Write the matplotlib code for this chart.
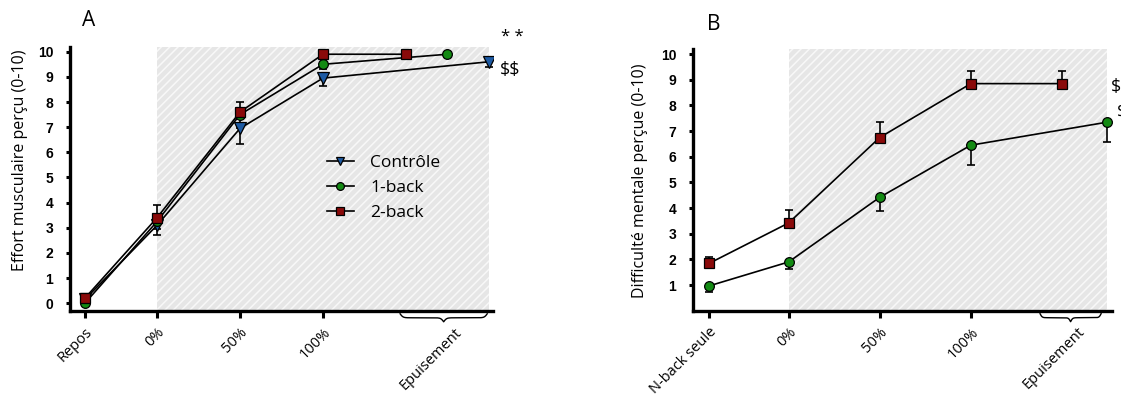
import numpy as np
import matplotlib
matplotlib.use("Agg")
import matplotlib.pyplot as plt
import matplotlib.transforms as mtransforms

plt.rcParams['hatch.linewidth'] = 1.1

# ---- data, panel A (effort musculaire) ----
cats_A = ['Repos', '0%', '50%', '100%']
ctrl_A = [0.15, 3.1, 6.95, 8.95, 9.6]
ctrl_A_err = [0.1, 0.38, 0.6, 0.31, 0.22]      # lower side
oneb_A = [0.0, 3.25, 7.5, 9.5, 9.9]
oneb_A_err = [0.05, 0.3, 0.4, 0.2, 0.1]        # lower side
twob_A = [0.2, 3.4, 7.6, 9.9, 9.9]
twob_A_err = [0.1, 0.5, 0.4, 0.05, 0.05]       # upper side

# ---- data, panel B (difficulté mentale) ----
cats_B = ['N-back seule', '0%', '50%', '100%']
oneb_B = [0.97, 1.9, 4.42, 6.45, 7.35]
oneb_B_err = [0.23, 0.29, 0.52, 0.78, 0.78]    # lower side
twob_B = [1.85, 3.42, 6.75, 8.85, 8.85]
twob_B_err = [0.25, 0.5, 0.6, 0.5, 0.5]        # upper side

# ---- layout ----
cat_pos = [0.13, 1, 2, 3]
epu_A = {'ctrl': 5.0, 'oneb': 4.5, 'twob': 4.0}
epu_B = {'oneb': 4.5, 'twob': 4.0}

BLUE = '#1d5aa3'
GREEN = '#138a13'
RED = '#8a0a0a'
LIGHT = 'Open Sans'
BOLD = 'Liberation Sans'

fig = plt.figure(figsize=(11.21, 3.95), dpi=100)
axA = fig.add_axes([0.0624, 0.2132, 0.3774, 0.6686])
axB = fig.add_axes([0.6182, 0.2134, 0.3738, 0.6626])


def brace(ax, x0, x1, depth=8):
    # curly brace under the x axis, x in data units, y in pixels below axis
    n = 201
    xs = np.linspace(x0, x1, n)
    half = xs[:n // 2 + 1]
    beta = 60.0 / (x1 - x0)
    yh = 1 / (1 + np.exp(-beta * (half - half[0]))) + 1 / (1 + np.exp(-beta * (half - half[-1])))
    ys = np.concatenate((yh, yh[-2::-1]))
    ys = (ys - ys.min()) / (ys.max() - ys.min())
    tr = mtransforms.blended_transform_factory(ax.transData, ax.transAxes)
    off = mtransforms.ScaledTranslation(0, -3 / 100, fig.dpi_scale_trans)
    ys_ax = -ys * depth / ax.bbox.height
    ax.plot(xs, ys_ax, color='black', lw=1.0, transform=tr + off, clip_on=False)


def style(ax, cats, xlim, yticks, ylabel, ylab_xy, epu_x, brace_span):
    ax.set_xlim(*xlim)
    for s in ['top', 'right']:
        ax.spines[s].set_visible(False)
    for s in ['left', 'bottom']:
        ax.spines[s].set_linewidth(2.4)
    ax.set_yticks(yticks)
    ax.set_yticklabels([str(t) for t in yticks], fontfamily=BOLD,
                       fontweight='bold', fontsize=10)
    ax.tick_params(axis='y', length=3, width=2.2, pad=9)
    ax.set_xticks(cat_pos)
    ax.set_xticklabels(cats, rotation=45, ha='right', va='top',
                       rotation_mode='anchor', fontfamily=LIGHT, fontsize=10.5)
    ax.tick_params(axis='x', length=5, width=2.2, pad=5)
    ax.set_xticks([epu_x], ['Epuisement'], minor=True)
    ax.tick_params(axis='x', which='minor', length=0, pad=10)
    for lab in ax.get_xticklabels(minor=True):
        lab.set_rotation(45)
        lab.set_ha('right')
        lab.set_va('top')
        lab.set_rotation_mode('anchor')
        lab.set_fontfamily(LIGHT)
        lab.set_fontsize(10.5)
    ax.set_ylabel(ylabel, fontfamily=LIGHT, fontsize=11.5, va='center')
    ax.yaxis.set_label_coords(*ylab_xy)
    brace(ax, *brace_span)


def series(ax, xs, ys, lo, hi, marker, color, ms, label=None):
    ax.errorbar(xs, ys, yerr=[lo, hi], fmt='none', ecolor='black',
                elinewidth=1.2, capsize=3, capthick=1.2, zorder=3)
    ax.plot(xs, ys, color='black', lw=1.2, marker=marker, ms=ms,
            mfc=color, mec='black', mew=0.9, zorder=4, label=label)


# ---------------- panel A ----------------
axA.set_ylim(-0.3, 10.2)
axA.axvspan(1, epu_A['ctrl'], facecolor='#e6e6e6', edgecolor='#f8f8f8',
            hatch='////', lw=0, zorder=0)
zA = [0] * 5
series(axA, cat_pos + [epu_A['ctrl']], ctrl_A, ctrl_A_err, zA, 'v', BLUE, 8, 'Contrôle')
series(axA, cat_pos + [epu_A['oneb']], oneb_A, oneb_A_err, zA, 'o', GREEN, 7, '1-back')
series(axA, cat_pos + [epu_A['twob']], twob_A, zA, twob_A_err, 's', RED, 7, '2-back')
style(axA, cats_A, (-0.05, 5.05), list(range(0, 11)),
      'Effort musculaire perçu (0-10)', (-0.118, 0.571), 4.58, (3.93, 4.98))
leg = axA.legend(loc='upper left', bbox_to_anchor=(0.607, 0.59), frameon=False,
                 prop={'family': LIGHT, 'size': 12.5}, handlelength=1.55,
                 handletextpad=0.95, labelspacing=0.52, numpoints=1,
                 markerscale=0.8, borderaxespad=0, borderpad=0)

# ---------------- panel B ----------------
axB.set_ylim(0, 10.2)
axB.axvspan(1, epu_B['oneb'], facecolor='#e6e6e6', edgecolor='#f8f8f8',
            hatch='////', lw=0, zorder=0)
zB = [0] * 5
series(axB, cat_pos + [epu_B['oneb']], oneb_B, oneb_B_err, zB, 'o', GREEN, 7)
series(axB, cat_pos + [epu_B['twob']], twob_B, zB, twob_B_err, 's', RED, 7)
style(axB, cats_B, (-0.05, 4.55), list(range(1, 11)),
      'Difficulté mentale perçue (0-10)', (-0.126, 0.496), 4.17, (3.76, 4.43))

# ---------------- panel letters and significance marks ----------------
fig.text(89 / 1121, 1 - 21 / 395, 'A', fontfamily=LIGHT, fontsize=15,
         ha='center', va='center')
fig.text(714 / 1121, 1 - 25 / 395, 'B', fontfamily=LIGHT, fontsize=15,
         ha='center', va='center')
fig.text(501 / 1121, 1 - 37 / 395, '* *', fontfamily=LIGHT, fontsize=12,
         ha='left', va='center')
fig.text(500 / 1121, 1 - 70 / 395, r'\$\$', fontfamily=LIGHT, fontsize=13,
         ha='left', va='center')
fig.text(1111 / 1121, 1 - 87 / 395, r'\$\$', fontfamily=LIGHT, fontsize=13,
         ha='left', va='center')
fig.text(1117 / 1121, 1 - 112 / 395, r'\$\$', fontfamily=LIGHT, fontsize=13,
         ha='left', va='center')

fig.savefig('out.png', dpi=100)
